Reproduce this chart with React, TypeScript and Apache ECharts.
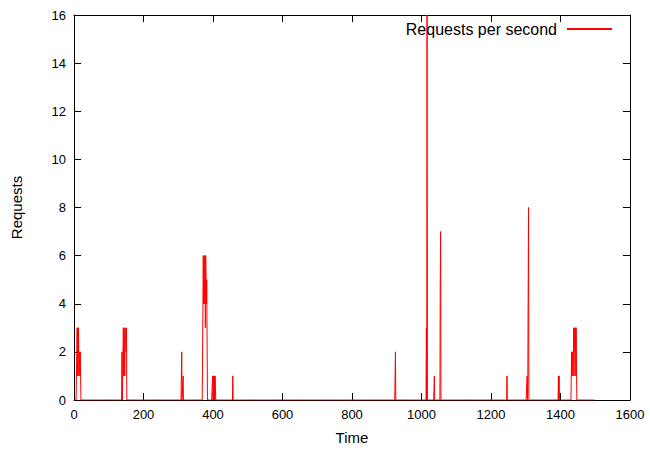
import React, { useEffect, useRef } from "react";
import * as echarts from "echarts";

// Requests per second, one sample per second from 0 to lastSecond.
// Seconds not listed below had 0 requests.
const lastSecond = 1499;
const spikeSeconds = [
  9, 10, 11, 12, 13, 14, 15, 16, 17, 18, 19,
  138, 142, 143, 144, 145, 146, 147, 148, 149, 150, 151,
  310, 314,
  372, 373, 374, 375, 376, 377, 378, 379, 380, 381, 382, 383,
  399, 401, 402, 404, 406, 407,
  457,
  925,
  1014, 1016,
  1037,
  1054, 1055,
  1246,
  1304, 1306, 1307, 1308,
  1394, 1396,
  1432, 1433, 1434, 1435, 1436, 1437, 1438, 1439, 1440, 1441, 1442, 1443, 1444, 1445, 1446,
];
const spikeRequests = [
  3, 1, 3, 2, 3, 1, 2, 2, 1, 2, 2,
  2, 3, 1, 3, 3, 1, 3, 3, 3, 2, 3,
  2, 1,
  6, 4, 6, 6, 4, 6, 3, 6, 5, 4, 5, 5,
  1, 1, 1, 1, 1, 1,
  1,
  2,
  3, 16,
  1,
  5, 7,
  1,
  1, 1, 1, 8,
  1, 1,
  2, 1, 2, 2, 1, 2, 3, 1, 3, 3, 2, 3, 1, 3, 3,
];

const xTicks = { min: 0, max: 1600, interval: 200 };
const yTicks = { min: 0, max: 16, interval: 2 };

const FONT = "Liberation Sans, Arial, sans-serif";

function axisLine() {
  return { show: true, onZero: false, lineStyle: { color: "#000", width: 1 } };
}
function tick() {
  return { show: true, inside: true, length: 7, lineStyle: { color: "#000", width: 1 } };
}

export default function App() {
  const ref = useRef<HTMLDivElement>(null);
  useEffect(() => {
    if (!ref.current) return;
    const chart = echarts.init(ref.current, undefined, { renderer: "svg" });
    const lookup = new Map<number, number>();
    spikeSeconds.forEach((s, i) => lookup.set(s, spikeRequests[i]));
    const data: [number, number][] = [];
    for (let t = 0; t <= lastSecond; t++) data.push([t, lookup.get(t) ?? 0]);

    const label = {
      color: "#000",
      fontSize: 13,
      fontFamily: FONT,
      margin: 8,
      formatter: (v: number) => String(v),
    };

    chart.setOption({
      animation: false,
      backgroundColor: "#fff",
      textStyle: { fontFamily: FONT },
      grid: { left: 74, right: 20, top: 15, bottom: 48, containLabel: false },
      legend: {
        show: true,
        right: 33,
        top: 16,
        align: "right",
        icon: "rect",
        itemWidth: 45,
        itemHeight: 2,
        itemStyle: { color: "#ff0000" },
        textStyle: { color: "#000", fontSize: 16, fontFamily: FONT, padding: [0, 5, 0, 0] },
        data: ["Requests per second"],
      },
      xAxis: [
        {
          type: "value",
          ...xTicks,
          name: "Time",
          nameLocation: "middle",
          nameGap: 30,
          nameTextStyle: { color: "#000", fontSize: 15, fontFamily: FONT },
          axisLine: axisLine(),
          axisTick: tick(),
          axisLabel: label,
          splitLine: { show: false },
        },
        {
          type: "value",
          ...xTicks,
          position: "top",
          axisLine: axisLine(),
          axisTick: tick(),
          axisLabel: { show: false },
          splitLine: { show: false },
        },
      ],
      yAxis: [
        {
          type: "value",
          ...yTicks,
          name: "Requests",
          nameLocation: "middle",
          nameGap: 50,
          nameTextStyle: { color: "#000", fontSize: 15, fontFamily: FONT },
          axisLine: axisLine(),
          axisTick: tick(),
          axisLabel: label,
          splitLine: { show: false },
        },
        {
          type: "value",
          ...yTicks,
          position: "right",
          axisLine: axisLine(),
          axisTick: tick(),
          axisLabel: { show: false },
          splitLine: { show: false },
        },
      ],
      series: [
        {
          name: "Requests per second",
          type: "line",
          data,
          symbol: "none",
          showSymbol: false,
          lineStyle: { color: "#ff0000", width: 1 },
          itemStyle: { color: "#ff0000" },
          z: 1,
        },
      ],
    });
    return () => chart.dispose();
  }, []);
  return (
    <div
      ref={ref}
      style={{ position: "fixed", left: 0, top: 0, width: 650, height: 450, background: "#fff" }}
    />
  );
}
